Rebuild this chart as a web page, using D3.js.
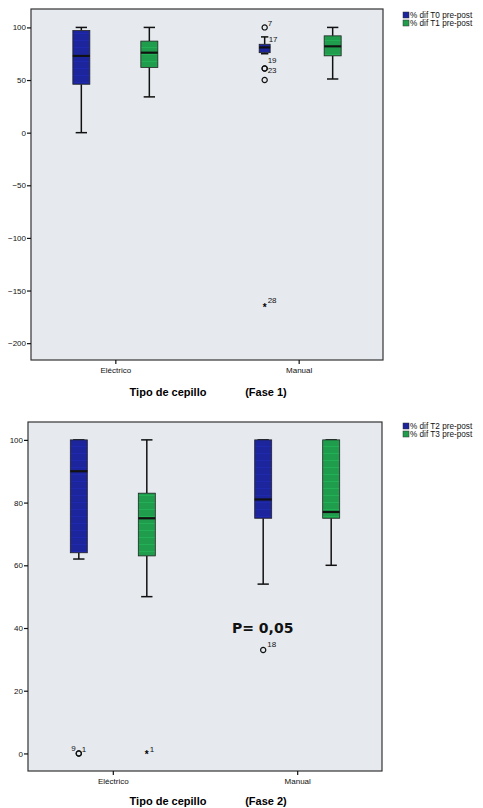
<!DOCTYPE html>
<html>
<head>
<meta charset="utf-8">
<script src="https://cdn.jsdelivr.net/npm/d3@7"></script>
<style>
  body { margin: 0; background: #fff; }
  svg { display: block; font-family: 'Liberation Sans', Arial, sans-serif; }
</style>
</head>
<body>
<div id="chart"></div>
<script>
// categories and series
const categories = ['Eléctrico', 'Manual']
const seriesF1 = ['% dif T0 pre-post', '% dif T1 pre-post']
const seriesF2 = ['% dif T2 pre-post', '% dif T3 pre-post']
const ticksF1 = [100, 50, 0, -50, -100, -150, -200]
const ticksF2 = [100, 80, 60, 40, 20, 0]

// box stats per category: [low whisker, q1, median, q3, high whisker]
const f1T0 = [[0, 46, 73, 97, 100], [75, 76, 81, 84, 91]]
const f1T1 = [[34, 62, 76, 87, 100], [51, 73, 82, 92, 100]]
const f2T2 = [[62, 64, 90, 100, 100], [54, 75, 81, 100, 100]]
const f2T3 = [[50, 63, 75, 83, 100], [60, 75, 77, 100, 100]]

// outliers: category, series index, value, case label, mark
const outF1 = [
  ['Manual', 0, 100, '7', 'o'],
  ['Manual', 0, 91, '17', ''],
  ['Manual', 0, 61, '19', 'o'],
  ['Manual', 0, 61, '23', 'o'],
  ['Manual', 0, 50, '', 'o'],
  ['Manual', 0, -165, '28', '*']
]
const outF2 = [
  ['Eléctrico', 0, 0, '9', 'o'],
  ['Eléctrico', 0, 0, '1', 'o'],
  ['Eléctrico', 1, 0, '1', '*'],
  ['Manual', 0, 33, '18', 'o']
]

const colors = ['#1c259c', '#1f9d4c']
const W = 483, H = 808

const svg = d3.select('#chart').append('svg').attr('width', W).attr('height', H)

// faint horizontal banding seen inside the boxes
const defs = svg.append('defs')
colors.forEach((c, i) => {
  const p = defs.append('pattern').attr('id', 'band' + i)
    .attr('patternUnits', 'userSpaceOnUse').attr('width', 6).attr('height', 7)
  p.append('rect').attr('width', 6).attr('height', 7).attr('fill', c)
  p.append('rect').attr('y', 5).attr('width', 6).attr('height', 1)
    .attr('fill', d3.color(c).brighter(0.3))
})

// label placement next to each outlier mark
const labelPos = {
  '7': [3, -4, 'start'], '17': [4, 2, 'start'], '19': [3, -8, 'start'],
  '23': [3, 2, 'start'], '28': [3, -6, 'start'], '9': [-3, -5, 'end'],
  '1': [3, -4, 'start'], '18': [4, -6, 'start']
}

function drawPanel (op) {
  const { box, ticks, domain, series, T0, T1, outliers, legendY, phase, boxW, titleY } = op
  const g = svg.append('g')

  const x = d3.scalePoint().domain(categories).range([box.left, box.right]).padding(0.46)
  const xs = d3.scalePoint().domain([0, 1]).range([-34, 34])
  const y = d3.scaleLinear().domain(domain).range([box.bottom, box.top])

  g.append('rect')
    .attr('x', box.left).attr('y', box.top)
    .attr('width', box.right - box.left).attr('height', box.bottom - box.top)
    .attr('fill', '#e6eaef').attr('stroke', '#333').attr('stroke-width', 1.2)

  // y axis
  const ya = g.append('g').attr('transform', `translate(${box.left},0)`)
    .call(d3.axisLeft(y).tickValues(ticks).tickSize(4).tickPadding(1))
  ya.select('.domain').remove()
  ya.selectAll('.tick line').attr('stroke', '#111').attr('stroke-width', 1.2)
  ya.selectAll('.tick text').attr('font-size', 8).attr('fill', '#111')
    .attr('font-family', 'Liberation Sans, Arial, sans-serif')

  // x axis
  const xa = g.append('g').attr('transform', `translate(0,${box.bottom})`)
    .call(d3.axisBottom(x).tickSize(4).tickPadding(3))
  xa.select('.domain').remove()
  xa.selectAll('.tick line').attr('stroke', '#111').attr('stroke-width', 1.2)
  xa.selectAll('.tick text').attr('font-size', 8).attr('fill', '#111')
    .attr('font-family', 'Liberation Sans, Arial, sans-serif')

  // axis title
  g.append('text').attr('x', 168).attr('y', box.bottom + titleY)
    .attr('text-anchor', 'middle').attr('font-size', 11).attr('font-weight', 'bold')
    .text('Tipo de cepillo')
  g.append('text').attr('x', 266).attr('y', box.bottom + titleY)
    .attr('text-anchor', 'middle').attr('font-size', 11).attr('font-weight', 'bold')
    .text(`(Fase ${phase})`)

  // boxes
  const stats = []
  categories.forEach((c, ci) => {
    stats.push({ c, s: 0, v: T0[ci] })
    stats.push({ c, s: 1, v: T1[ci] })
  })
  const bw = d => boxW[d.c + d.s] || 17
  const bx = g.selectAll('.bx').data(stats).enter().append('g').classed('bx', true)
    .attr('transform', d => `translate(${x(d.c) + xs(d.s)},0)`)
  bx.append('line').attr('y1', d => y(d.v[0])).attr('y2', d => y(d.v[1]))
    .attr('stroke', '#111').attr('stroke-width', 1.5)
  bx.append('line').attr('y1', d => y(d.v[3])).attr('y2', d => y(d.v[4]))
    .attr('stroke', '#111').attr('stroke-width', 1.5)
  bx.append('line').attr('x1', d => -bw(d) / 3).attr('x2', d => bw(d) / 3)
    .attr('y1', d => y(d.v[0])).attr('y2', d => y(d.v[0]))
    .attr('stroke', '#111').attr('stroke-width', 1.5)
  bx.append('line').attr('x1', d => -bw(d) / 3).attr('x2', d => bw(d) / 3)
    .attr('y1', d => y(d.v[4])).attr('y2', d => y(d.v[4]))
    .attr('stroke', '#111').attr('stroke-width', 1.5)
  bx.append('rect').attr('x', d => -bw(d) / 2).attr('width', bw)
    .attr('y', d => y(d.v[3])).attr('height', d => y(d.v[1]) - y(d.v[3]))
    .attr('fill', d => `url(#band${d.s})`).attr('stroke', '#222').attr('stroke-width', 0.8)
  bx.append('line').attr('x1', d => -bw(d) / 2).attr('x2', d => bw(d) / 2)
    .attr('y1', d => y(d.v[2])).attr('y2', d => y(d.v[2]))
    .attr('stroke', '#111').attr('stroke-width', 2.2)

  // outliers
  const og = g.selectAll('.out').data(outliers).enter().append('g').classed('out', true)
    .attr('transform', d => `translate(${x(d[0]) + xs(d[1])},${y(d[2])})`)
  og.filter(d => d[4] === 'o').append('circle').attr('r', 2.6)
    .attr('fill', 'none').attr('stroke', '#111').attr('stroke-width', 1.2)
  og.filter(d => d[4] === '*').append('text').attr('text-anchor', 'middle').attr('dy', 5)
    .attr('font-size', 10).attr('font-weight', 'bold').text('*')
  og.filter(d => d[3]).append('text')
    .attr('x', d => labelPos[d[3]][0]).attr('y', d => labelPos[d[3]][1])
    .attr('text-anchor', d => labelPos[d[3]][2])
    .attr('dy', '0.35em').attr('font-size', 8).attr('fill', '#111').text(d => d[3])

  // legend
  const lg = g.selectAll('.lg').data(series).enter().append('g').classed('lg', true)
    .attr('transform', (d, i) => `translate(403,${legendY + i * 8})`)
  lg.append('rect').attr('y', -3).attr('width', 6).attr('height', 6)
    .attr('fill', (d, i) => colors[i]).attr('stroke', '#333').attr('stroke-width', 0.5)
  lg.append('text').attr('x', 7).attr('dy', '0.35em').attr('font-size', 8.2)
    .attr('fill', '#111').text(d => d)

  return { x, y }
}

drawPanel({
  box: { left: 31, right: 383, top: 9, bottom: 360 },
  ticks: ticksF1, domain: [-216, 117.5], series: seriesF1,
  T0: f1T0, T1: f1T1, outliers: outF1, legendY: 15, phase: 1,
  boxW: { Manual0: 11 }, titleY: 36
})

drawPanel({
  box: { left: 28, right: 382, top: 422, bottom: 771 },
  ticks: ticksF2, domain: [-5.6, 105.7], series: seriesF2,
  T0: f2T2, T1: f2T3, outliers: outF2, legendY: 426, phase: 2,
  boxW: {}, titleY: 34
})

svg.append('text').attr('x', 232).attr('y', 633)
  .attr('font-family', 'DejaVu Sans, Verdana, sans-serif')
  .attr('font-size', 14).attr('font-weight', 'bold').attr('fill', '#111')
  .text('P= 0,05')
</script>
</body>
</html>
